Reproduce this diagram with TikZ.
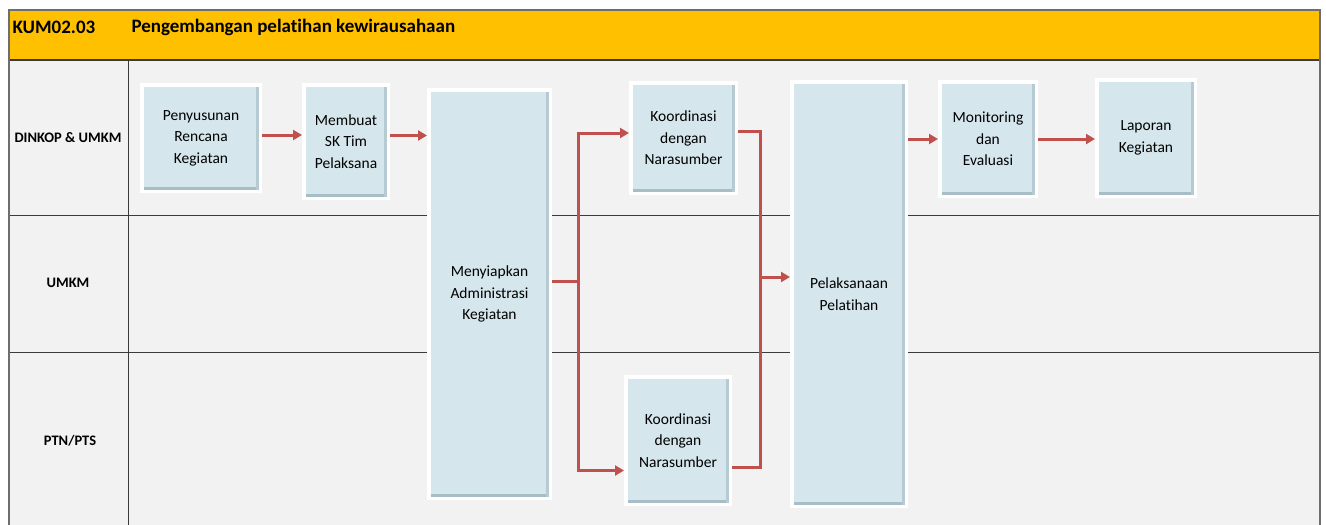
\documentclass[tikz,border=0pt]{standalone}
\usepackage{fontspec}
\setmainfont{Carlito}[Ligatures=NoCommon]
\usetikzlibrary{arrows.meta,shadows}
\definecolor{headfill}{HTML}{FFC000}
\definecolor{lanefill}{HTML}{F2F2F2}
\definecolor{framec}{HTML}{6E6E6E}
\definecolor{gridc}{HTML}{3A3A3A}
\definecolor{boxfill}{HTML}{D5E6EC}
\definecolor{bevelc}{HTML}{A7BEC7}
\definecolor{flowc}{HTML}{C0504D}
\tikzset{
  stepbox/.style={draw=white, line width=3.5pt, fill=boxfill, align=center,
    font=\fontsize{15.5pt}{21.5pt}\selectfont, inner sep=2pt,
    drop shadow={shadow xshift=1.5pt, shadow yshift=-2pt, opacity=0.3, fill=black!60},
    path picture={
      \fill[bevelc] ([shift={(1.75pt,1.75pt)}]path picture bounding box.south west)
        rectangle ([shift={(-1.75pt,4.5pt)}]path picture bounding box.south east);
      \fill[bevelc!70!boxfill] ([shift={(-4.5pt,1.75pt)}]path picture bounding box.south east)
        rectangle ([shift={(-1.75pt,-1.75pt)}]path picture bounding box.north east);
    }},
  flow/.style={draw=flowc, line width=3pt, -{Triangle[length=9pt,width=10pt]}},
  flowline/.style={draw=flowc, line width=3pt},
  lanelabel/.style={font=\bfseries\fontsize{14.5pt}{17pt}\selectfont},
  headtext/.style={font=\bfseries\fontsize{19pt}{22pt}\selectfont, anchor=west}
}
\begin{document}
\begin{tikzpicture}[x=1pt,y=-1pt]
\useasboundingbox (0,0) rectangle (1326,525);
% swimlane frame
\fill[white] (0,0) rectangle (1326,525);
\fill[lanefill] (9,10) rectangle (1320,530);
\fill[headfill] (9,10) rectangle (1320,60);
\draw[gridc, line width=1.2pt] (9,60) -- (1320,60);
\draw[gridc, line width=0.9pt] (9,215) -- (1320,215);
\draw[gridc, line width=0.9pt] (9,352) -- (1320,352);
\draw[gridc, line width=0.9pt] (128,60) -- (128,530);
\draw[framec, line width=1.5pt] (9,530) -- (9,10) -- (1320,10) -- (1320,530);
% header texts
\node[headtext] (code) at (9,27) {KUM02.03};
\node[headtext] (title) at (128,27) {Pengembangan pelatihan kewirausahaan};
% lane labels
\node[lanelabel] (l1) at (68,138) {DINKOP \& UMKM};
\node[lanelabel] (l2) at (68,283) {UMKM};
\node[lanelabel] (l3) at (70,441) {PTN/PTS};
% process steps
\node[stepbox, minimum width=118.5pt, minimum height=106.5pt] (b1) at (201,138) {Penyusunan\\Rencana\\Kegiatan};
\node[stepbox, minimum width=84.5pt, minimum height=113.5pt] (b2) at (346,141.5) {Membuat\\SK Tim\\Pelaksana};
\node[stepbox, minimum width=121.5pt, minimum height=408.5pt] (b3) at (489.5,294) {Menyiapkan\\Administrasi\\Kegiatan};
\node[stepbox, minimum width=105.5pt, minimum height=110.5pt] (b4) at (683.5,138) {Koordinasi\\dengan\\Narasumber};
\node[stepbox, minimum width=104.5pt, minimum height=127.5pt] (b5) at (678,440.5) {Koordinasi\\dengan\\Narasumber};
\node[stepbox, minimum width=114.5pt, minimum height=424.5pt] (b6) at (849,294) {Pelaksanaan\\Pelatihan};
\node[stepbox, minimum width=96.5pt, minimum height=114.5pt] (b7) at (988,139) {Monitoring\\dan\\Evaluasi};
\node[stepbox, minimum width=98.5pt, minimum height=116.5pt] (b8) at (1146,138) {Laporan\\Kegiatan};
% junction points
\coordinate (split) at (578,281);
\coordinate (merge) at (760,277);
% connectors
\draw[flow] ([yshift=3pt]b1.east) -- ([yshift=3pt]b2.west |- b1.east);
\draw[flow] ([yshift=6pt]b2.east) -- ([yshift=6pt]b3.west |- b2.east);
\draw[flowline] ([yshift=13pt]b3.east) -- (split);
\draw[flow] (split) |- ([yshift=5pt]b4.west);
\draw[flow] (split) |- ([yshift=-30pt]b5.west);
\draw[flowline] ([yshift=7pt]b4.east) -| (merge);
\draw[flowline] ([yshift=-27pt]b5.east) -| (merge);
\draw[flow] (merge) -- (merge -| b6.west);
\draw[flow] (b6.east |- b7.west) -- (b7.west);
\draw[flow] (b7.east) -- (b7.east -| b8.west);
\end{tikzpicture}
\end{document}
